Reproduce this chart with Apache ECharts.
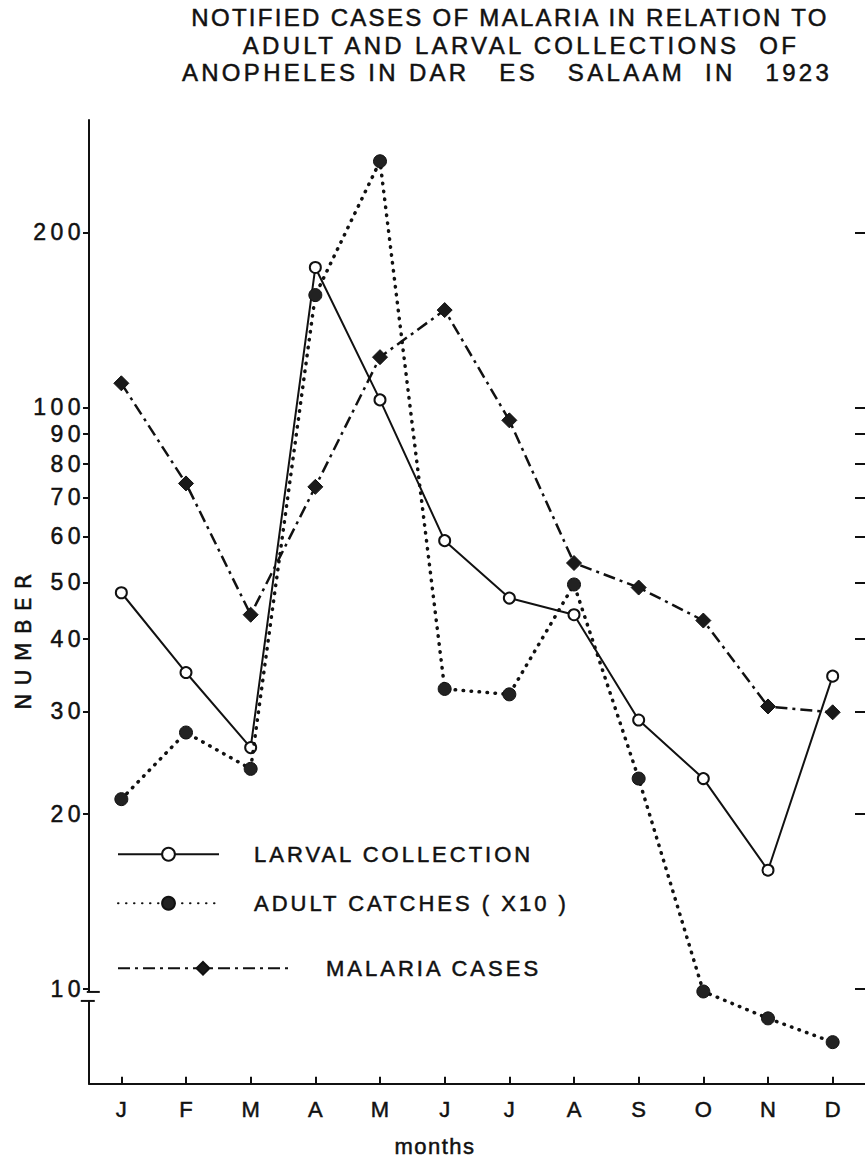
<!DOCTYPE html>
<html>
<head>
<meta charset="utf-8">
<script src="https://cdn.jsdelivr.net/npm/echarts@6/dist/echarts.min.js"></script>
<style>
html,body{margin:0;padding:0;background:#fff;}
#chart{width:865px;height:1163px;}
#chart text{letter-spacing:0px;}
#chart text[style*="Helvetica"]{letter-spacing:2.3px;}
#chart text[style*="Geneva"]{letter-spacing:3.3px;}
#chart text[style*="Arial"]{letter-spacing:4.5px;}
#chart text[style*="FreeSans"]{letter-spacing:3px;}
#chart text[style*="Nimbus"]{letter-spacing:1.5px;}
#chart text[style*="DejaVu"]{letter-spacing:8px;}
</style>
</head>
<body>
<div id="chart"></div>
<script>
// ---- data ----
const months = ['J','F','M','A','M','J','J','A','S','O','N','D'];
const larvalCollection = [48, 35, 26, 174, 103, 59, 47, 44, 29, 23, 16, 34.5];
const adultCatchesX10 = [21.2, 27.6, 23.9, 156, 265, 32.8, 32.1, 49.6, 23.0, 9.9, 8.9, 8.1];
const malariaCases = [110, 74, 44, 73, 122, 147, 95, 54, 49, 43, 30.6, 29.9];
const yTickValues = [10, 20, 30, 40, 50, 60, 70, 80, 90, 100, 200];
const seriesNames = ['LARVAL COLLECTION', 'ADULT CATCHES ( X10 )', 'MALARIA CASES'];
const titleLines = [
  'NOTIFIED CASES OF MALARIA IN RELATION TO',
  'ADULT AND LARVAL COLLECTIONS \u00A0OF',
  'ANOPHELES IN DAR \u00A0\u00A0ES \u00A0\u00A0SALAAM \u00A0IN \u00A0\u00A01923'
];
const yAxisTitle = 'NUMBER';
const xAxisTitle = 'months';

const INK = '#111';
const F_TITLE = "'Liberation Sans', Helvetica";
const F_TITLE_WIDE = "'Liberation Sans', Geneva";
const F_TICK = "'Liberation Sans', Arial";
const F_LEGEND = "'Liberation Sans', FreeSans";
const F_NAME = "'Liberation Sans', Nimbus";
const F_MONTH = "'Liberation Sans', sans-serif";
const HEAVY = {textBorderColor: INK, textBorderWidth: 0.5};

const chart = echarts.init(document.getElementById('chart'), null, {renderer: 'svg'});

function titleLine(text, cx, top, family) {
  return {
    text: text, left: cx, top: top, textAlign: 'center', padding: 0,
    textStyle: Object.assign({fontFamily: family, fontSize: 24, fontWeight: 'normal', color: INK, lineHeight: 26}, HEAVY)
  };
}

function legendRow(name, top, width, pad) {
  return {
    data: [name], left: 117, top: top, padding: 0,
    itemWidth: width, itemHeight: 16, selectedMode: false,
    textStyle: Object.assign({fontFamily: F_LEGEND, fontSize: 22, color: INK, padding: [0, 0, 0, pad]}, HEAVY)
  };
}

const yAxisBase = {
  type: 'log',
  logBase: 10,
  min: 6.87,
  max: 312,
  minorTick: {show: false},
  splitLine: {show: false}
};

chart.setOption({
  backgroundColor: '#fff',
  animation: false,
  title: [
    titleLine(titleLines[0], 510, 4, F_TITLE),
    titleLine(titleLines[1], 521, 32, F_TITLE_WIDE),
    titleLine(titleLines[2], 507, 59, F_TITLE_WIDE)
  ],
  legend: [
    legendRow(seriesNames[0], 843, 101, 30),
    legendRow(seriesNames[1], 892, 101, 30),
    legendRow(seriesNames[2], 957, 170, 33)
  ],
  grid: {left: 89, right: -5, top: 120, bottom: 78, containLabel: false},
  xAxis: {
    type: 'category',
    data: months,
    boundaryGap: true,
    name: xAxisTitle,
    nameLocation: 'middle',
    nameGap: 52,
    nameTextStyle: Object.assign({fontFamily: F_NAME, fontSize: 22, color: INK, padding: [0, 84, 0, 0]}, HEAVY),
    axisLine: {lineStyle: {color: INK, width: 2}},
    axisTick: {show: true, alignWithLabel: true, inside: true, length: 7, lineStyle: {color: INK, width: 2}},
    axisLabel: Object.assign({fontFamily: F_MONTH, fontSize: 22, color: INK, margin: 15}, HEAVY),
    splitLine: {show: false}
  },
  yAxis: [
    Object.assign({}, yAxisBase, {
      position: 'left',
      axisLine: {show: true, lineStyle: {color: INK, width: 2}},
      axisTick: {show: true, inside: false, length: 6, lineStyle: {color: INK, width: 2}, customValues: yTickValues},
      axisLabel: Object.assign({
        fontFamily: F_TICK, fontSize: 23, color: INK, margin: 4,
        customValues: yTickValues,
        formatter: function (v) { return String(Math.round(v)); }
      }, HEAVY)
    }),
    Object.assign({}, yAxisBase, {
      position: 'right',
      axisLine: {show: false},
      axisTick: {show: true, inside: true, length: 10, lineStyle: {color: INK, width: 2}, customValues: yTickValues},
      axisLabel: {show: false}
    })
  ],
  series: [
    {
      name: seriesNames[0],
      type: 'line',
      yAxisIndex: 0,
      data: larvalCollection,
      symbol: 'circle',
      symbolSize: 11,
      lineStyle: {color: INK, width: 2, type: 'solid'},
      itemStyle: {color: '#fff', borderColor: INK, borderWidth: 2},
      z: 3
    },
    {
      name: seriesNames[1],
      type: 'line',
      yAxisIndex: 0,
      data: adultCatchesX10,
      symbol: 'circle',
      symbolSize: 13,
      lineStyle: {color: INK, width: 3.5, type: [0.5, 7.5], cap: 'round'},
      itemStyle: {color: '#222', borderColor: INK, borderWidth: 1},
      z: 4
    },
    {
      name: seriesNames[2],
      type: 'line',
      yAxisIndex: 0,
      data: malariaCases,
      symbol: 'diamond',
      symbolSize: 15,
      lineStyle: {color: INK, width: 2.5, type: [12, 5, 3, 5]},
      itemStyle: {color: '#1a1a1a', borderColor: INK, borderWidth: 1},
      z: 5
    }
  ]
});

// axis break mark just below the 10 tick, placed from the axis scale
const axisX = chart.convertToPixel({xAxisIndex: 0}, 0) - 32.55;
const y10 = chart.convertToPixel({yAxisIndex: 0}, 10);
chart.setOption({
  graphic: [
    {type: 'rect', shape: {x: axisX - 3, y: y10 + 3, width: 6, height: 9}, style: {fill: '#fff'}, z: 100},
    {type: 'line', shape: {x1: axisX - 2, y1: y10 + 3, x2: axisX + 11, y2: y10 + 3}, style: {stroke: INK, lineWidth: 2}, z: 101},
    {type: 'line', shape: {x1: axisX - 8, y1: y10 + 12, x2: axisX + 6, y2: y10 + 12}, style: {stroke: INK, lineWidth: 2}, z: 101},
    {
      type: 'text',
      x: 23, y: 638,
      rotation: Math.PI / 2,
      style: {text: yAxisTitle, fontFamily: 'DejaVu Sans', fontSize: 22, fill: INK, align: 'center', verticalAlign: 'middle',
        stroke: INK, lineWidth: 0.5},
      z: 101
    }
  ]
});
</script>
</body>
</html>
